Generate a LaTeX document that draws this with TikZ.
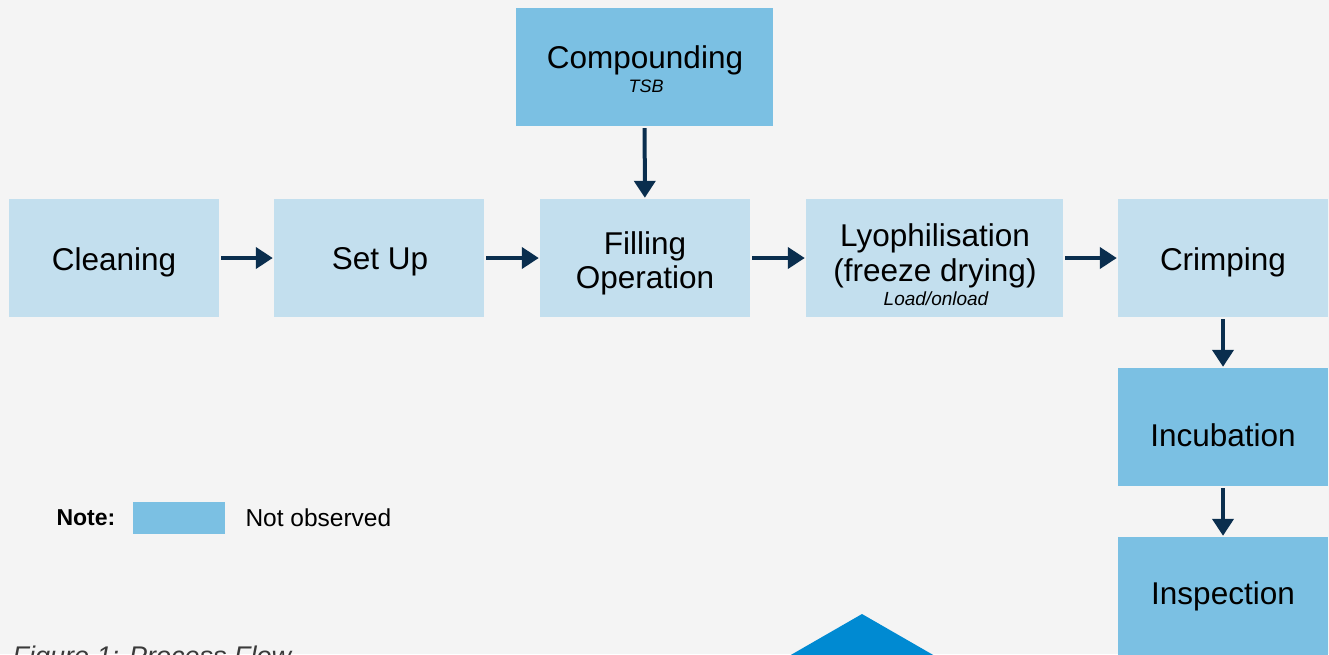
\documentclass[tikz,border=0pt]{standalone}
\usepackage{fontspec}
\setmainfont{Liberation Sans}
\usetikzlibrary{arrows.meta}
\definecolor{bg}{HTML}{F4F4F4}
\definecolor{lightbox}{HTML}{C3DFEE}
\definecolor{darkbox}{HTML}{7BC0E3}
\definecolor{arrowc}{HTML}{0A2E4E}
\definecolor{accent}{HTML}{008AD2}
\definecolor{captionc}{HTML}{3A3A3A}
\tikzset{
  x=1pt, y=-1pt,
  procbox/.style={fill=lightbox, draw=none, minimum width=210pt, minimum height=118pt, inner sep=0pt},
  obsbox/.style={procbox, fill=darkbox},
  maintxt/.style={font=\fontsize{31.5}{35}\selectfont, inner sep=0pt},
  subtxt/.style={font=\fontsize{19}{21}\selectfont\itshape, inner sep=0pt},
  flow/.style={draw=arrowc, line width=4pt, -{Triangle[width=21pt,length=17pt]}, shorten <=2pt, shorten >=1pt}
}
\begin{document}
\begin{tikzpicture}
\useasboundingbox (0,0) rectangle (1329,654);
\clip (0,0) rectangle (1329,654);
\fill[bg] (0,0) rectangle (1329,654);

\node[obsbox, minimum width=257pt] (comp) at (644.5,67) {};
\node[maintxt] (compT) at (645,60) {Compounding};
\node[subtxt, font=\fontsize{18}{20}\selectfont\itshape] (compS) at (646,86) {TSB};
\node[procbox] (clean) at (114,258) {};
\node[maintxt] (cleanT) at (114,262) {Cleaning};
\node[procbox] (setup) at (379,258) {};
\node[maintxt] (setupT) at (380,262) {Set Up};
\node[procbox] (fill) at (645,258) {};
\node[maintxt] (fillT1) at (645,246) {Filling};
\node[maintxt] (fillT2) at (645,280) {Operation};
\node[procbox, minimum width=257pt] (lyo) at (934.5,258) {};
\node[maintxt] (lyoT1) at (935,238) {Lyophilisation};
\node[maintxt] (lyoT2) at (935,273) {(freeze drying)};
\node[subtxt] (lyoS) at (936,299) {Load/onload};
\node[procbox] (crimp) at (1223,258) {};
\node[maintxt] (crimpT) at (1223,262) {Crimping};
\node[obsbox] (incub) at (1223,427) {};
\node[maintxt] (incubT) at (1223,435) {Incubation};
\node[obsbox] (insp) at (1223,596) {};
\node[maintxt] (inspT) at (1223,596) {Inspection};

\draw[flow] (clean) -- (setup);
\draw[flow] (setup) -- (fill);
\draw[flow] (fill) -- (lyo);
\draw[flow] (lyo) -- (crimp);
\draw[flow] (comp) -- (fill);
\draw[flow] (crimp) -- (incub);
\draw[flow] (incub) -- (insp);

\node[font=\fontsize{23}{26}\selectfont\bfseries, anchor=west] (note) at (53,518) {Note:};
\node[fill=darkbox, minimum width=92pt, minimum height=32pt, inner sep=0pt] (swatch) at (179,518) {};
\node[font=\fontsize{24.5}{27}\selectfont, anchor=west] (notobs) at (242,518) {Not observed};

\node[font=\fontsize{27}{30}\selectfont\itshape, text=captionc, anchor=base west] (cap) at (9,665) {Figure 1: Process Flow};

\fill[accent] (862,614) -- (935,656) -- (789,656) -- cycle;
\end{tikzpicture}
\end{document}
